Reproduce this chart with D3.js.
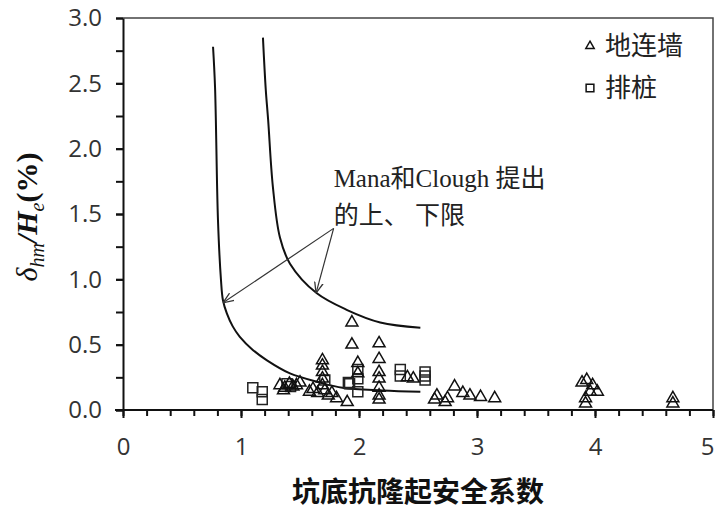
<!DOCTYPE html>
<html>
<head>
<meta charset="utf-8">
<script src="https://cdn.jsdelivr.net/npm/d3@7"></script>
<style>
  body { margin: 0; background: #fff; }
</style>
</head>
<body>
<div id="chart"></div>
<script>
// 地连墙 (triangles)
const wallX = [1.33, 1.37, 1.41, 1.44, 1.47, 1.36, 1.50, 1.58, 1.61, 1.65,
               1.69, 1.69, 1.69, 1.69, 1.69, 1.71, 1.74, 1.77, 1.81, 1.90,
               1.94, 1.94, 1.99, 1.99, 2.17, 2.17, 2.17, 2.17, 2.17, 2.17,
               2.17, 2.41, 2.46, 2.64, 2.66, 2.73, 2.75, 2.81, 2.88, 2.94,
               3.03, 3.15, 3.89, 3.93, 3.98, 4.02, 3.92, 3.92, 3.96, 4.66, 4.66];
const wallY = [0.19, 0.17, 0.20, 0.18, 0.19, 0.15, 0.21, 0.14, 0.16, 0.13,
               0.38, 0.34, 0.29, 0.24, 0.19, 0.15, 0.11, 0.13, 0.09, 0.06,
               0.67, 0.50, 0.36, 0.28, 0.51, 0.39, 0.29, 0.24, 0.17, 0.11,
               0.08, 0.25, 0.24, 0.08, 0.11, 0.06, 0.09, 0.18, 0.13, 0.11,
               0.10, 0.09, 0.21, 0.23, 0.19, 0.14, 0.09, 0.05, 0.14, 0.09, 0.05];

// 排桩 (squares)
const pileX = [1.10, 1.18, 1.18, 1.39, 1.42, 1.71, 1.91, 1.99, 1.99, 1.99,
               1.92, 2.35, 2.35, 2.56, 2.56, 2.56];
const pileY = [0.17, 0.14, 0.08, 0.20, 0.18, 0.23, 0.21, 0.31, 0.24, 0.14,
               0.20, 0.31, 0.26, 0.29, 0.26, 0.23];

// Mana & Clough bounds
const lowerX = [0.763, 0.78, 0.805, 0.83, 0.847, 0.88, 0.93, 0.99, 1.10, 1.22, 1.415, 1.67, 1.86, 2.2, 2.52];
const lowerY = [2.78, 2.47, 1.45, 1.0, 0.84, 0.74, 0.64, 0.56, 0.46, 0.38, 0.28, 0.21, 0.17, 0.15, 0.14];
const upperX = [1.186, 1.21, 1.23, 1.27, 1.33, 1.415, 1.64, 1.90, 2.18, 2.52];
const upperY = [2.85, 2.45, 2.22, 1.71, 1.32, 1.12, 0.895, 0.765, 0.67, 0.63];

const xTicks = [0, 1, 2, 3, 4, 5];
const yTicks = [0, 0.5, 1.0, 1.5, 2.0, 2.5, 3.0];
const legendNames = ["地连墙", "排桩"];

const width = 715;
const height = 509;
const margin = {left: 123, right: 2, top: 18, bottom: 99};

const svg = d3.select("#chart")
  .append("svg")
  .attr("width", width)
  .attr("height", height)
  .style("font-family", "'Liberation Serif', 'Noto Sans CJK SC', serif");

const x = d3.scaleLinear().domain([0, 5]).range([margin.left, width - margin.right]);
const y = d3.scaleLinear().domain([0, 3]).range([height - margin.bottom, margin.top]);

// frame (top / right)
svg.append("path")
  .attr("d", `M${x(0)},${y(3)}H${x(5)}V${y(0)}`)
  .attr("fill", "none")
  .attr("stroke", "#444")
  .attr("stroke-width", 1.5);

// minor ticks
svg.append("g")
  .attr("transform", `translate(0,${y(0)})`)
  .call(d3.axisBottom(x).tickValues(d3.range(0, 5.01, 0.2)).tickSize(6).tickFormat(""))
  .call(g => g.select(".domain").remove())
  .selectAll("line").attr("stroke", "#111").attr("stroke-width", 2);

svg.append("g")
  .attr("transform", `translate(${x(0)},0)`)
  .call(d3.axisLeft(y).tickValues(d3.range(0, 3.01, 0.25)).tickSize(7).tickFormat(""))
  .call(g => g.select(".domain").remove())
  .selectAll("line").attr("stroke", "#111").attr("stroke-width", 2);

// major axes
const xAxis = svg.append("g")
  .attr("transform", `translate(0,${y(0)})`)
  .call(d3.axisBottom(x).tickValues(xTicks).tickSize(8).tickPadding(20).tickSizeOuter(0).tickFormat(d3.format("d")));
const yAxis = svg.append("g")
  .attr("transform", `translate(${x(0)},0)`)
  .call(d3.axisLeft(y).tickValues(yTicks).tickSize(7).tickPadding(14).tickSizeOuter(0).tickFormat(d3.format(".1f")));

[xAxis, yAxis].forEach(g => {
  g.select(".domain").attr("stroke", "#111").attr("stroke-width", 2);
  g.selectAll(".tick line").attr("stroke", "#111").attr("stroke-width", 2);
  g.selectAll(".tick text")
    .attr("fill", "#333")
    .style("font-family", "'Open Sans', sans-serif")
    .style("font-size", "24px");
});
xAxis.select(".domain").attr("d", `M${x(0) - 8},0H${x(5)}`);
// keep the last label inside the picture
xAxis.selectAll(".tick text").filter(d => d === 5).attr("dx", -6);

// bound curves
const line = d3.line()
  .x(d => x(d[0]))
  .y(d => y(d[1]))
  .curve(d3.curveCatmullRom.alpha(0.5));

[[lowerX, lowerY], [upperX, upperY]].forEach(([xs, ys]) => {
  svg.append("path")
    .datum(xs.map((v, i) => [v, ys[i]]))
    .attr("d", line)
    .attr("fill", "none")
    .attr("stroke", "#111")
    .attr("stroke-width", 2);
});

// markers
const tri = d3.symbol(d3.symbolTriangle, 62);
const sq = d3.symbol(d3.symbolSquare, 100);

svg.append("g").selectAll("path")
  .data(pileX.map((v, i) => [v, pileY[i]]))
  .join("path")
  .attr("transform", d => `translate(${x(d[0])},${y(d[1])})`)
  .attr("d", sq)
  .attr("fill", "none")
  .attr("stroke", "#222")
  .attr("stroke-width", 1.5);

svg.append("g").selectAll("path")
  .data(wallX.map((v, i) => [v, wallY[i]]))
  .join("path")
  .attr("transform", d => `translate(${x(d[0])},${y(d[1])})`)
  .attr("d", tri)
  .attr("fill", "none")
  .attr("stroke", "#111")
  .attr("stroke-width", 1.5);

// annotation
svg.append("defs").append("marker")
  .attr("id", "arr")
  .attr("viewBox", "0 0 10 10")
  .attr("refX", 10).attr("refY", 5)
  .attr("markerWidth", 9).attr("markerHeight", 9)
  .attr("orient", "auto")
  .append("path")
  .attr("d", "M0,1L10,5L0,9")
  .attr("fill", "none")
  .attr("stroke", "#333")
  .attr("stroke-width", 1.2);

const anchor = [1.785, 1.39];
[[0.847, 0.82], [1.636, 0.895]].forEach(tip => {
  svg.append("line")
    .attr("x1", x(anchor[0])).attr("y1", y(anchor[1]))
    .attr("x2", x(tip[0])).attr("y2", y(tip[1]))
    .attr("stroke", "#333")
    .attr("stroke-width", 1.2)
    .attr("marker-end", "url(#arr)");
});

const note = svg.append("text")
  .attr("fill", "#222")
  .style("font-size", "25px");
note.append("tspan").attr("x", x(1.785)).attr("y", y(1.71)).text("Mana和Clough 提出");
note.append("tspan").attr("x", x(1.785)).attr("y", y(1.425)).text("的上、 下限");

// legend
const legend = svg.append("g");
[tri, sq].forEach((sym, i) => {
  const ly = 46 + i * 42;
  legend.append("path")
    .attr("transform", `translate(590,${ly})`)
    .attr("d", i === 0 ? d3.symbol(d3.symbolTriangle, 30) : d3.symbol(d3.symbolSquare, 60))
    .attr("fill", "none")
    .attr("stroke", "#111")
    .attr("stroke-width", 1.5);
  legend.append("text")
    .attr("x", 605)
    .attr("y", ly + 9)
    .attr("fill", "#222")
    .style("font-size", "26px")
    .text(legendNames[i]);
});

// axis titles
svg.append("text")
  .attr("x", (x(0) + x(5)) / 2)
  .attr("y", 502)
  .attr("text-anchor", "middle")
  .attr("fill", "#111")
  .style("font-family", "'Noto Sans CJK SC', sans-serif")
  .style("font-weight", "bold")
  .style("font-size", "28px")
  .text("坑底抗隆起安全系数");

const yt = svg.append("text")
  .attr("transform", "translate(37,217) rotate(-90)")
  .attr("text-anchor", "middle")
  .attr("fill", "#111")
  .style("font-size", "30px");
yt.append("tspan").style("font-style", "italic").text("δ");
yt.append("tspan").style("font-style", "italic").style("font-size", "20px").attr("dy", 7).text("hm");
yt.append("tspan").style("font-weight", "bold").style("font-style", "italic").attr("dy", -7).text("/H");
yt.append("tspan").style("font-style", "italic").style("font-size", "20px").attr("dy", 7).text("e");
yt.append("tspan").style("font-weight", "bold").attr("dy", -7).text("(%)");
</script>
</body>
</html>
